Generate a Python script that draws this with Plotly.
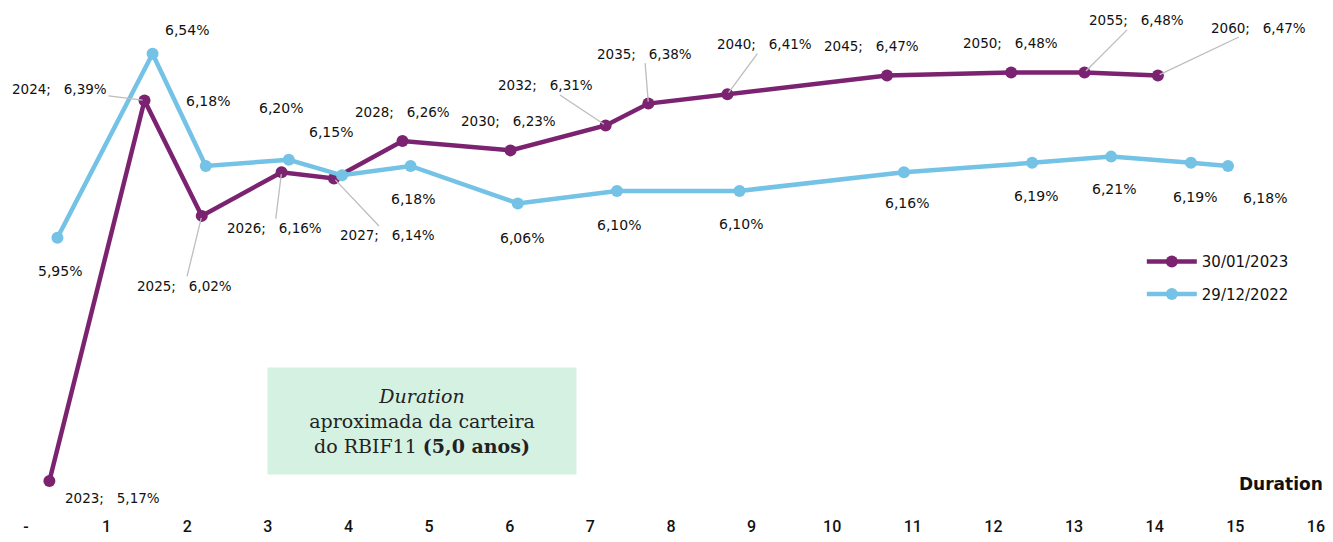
import plotly.graph_objects as go

# ---- data ----
jan_name = "30/01/2023"
dec_name = "29/12/2022"

jan_duration = [0.29, 1.47, 2.18, 3.17, 3.82, 4.67, 6.01, 7.19, 7.72, 8.70, 10.68, 12.22, 13.13, 14.04]
jan_rate = [5.17, 6.39, 6.02, 6.16, 6.14, 6.26, 6.23, 6.31, 6.38, 6.41, 6.47, 6.48, 6.48, 6.47]
jan_year = [2023, 2024, 2025, 2026, 2027, 2028, 2030, 2032, 2035, 2040, 2045, 2050, 2055, 2060]

dec_duration = [0.39, 1.57, 2.23, 3.26, 3.92, 4.77, 6.10, 7.33, 8.85, 10.89, 12.48, 13.46, 14.45, 14.91]
dec_rate = [5.95, 6.54, 6.18, 6.20, 6.15, 6.18, 6.06, 6.10, 6.10, 6.16, 6.19, 6.21, 6.19, 6.18]

x_ticks = list(range(0, 17))
x_tick_labels = ["-"] + [str(i) for i in range(1, 17)]

# ---- label placement (pixel offsets) ----
jan_offsets = [(63, 17), (-85, -11), (-17, 70), (-7, 56), (54, 57), (0, -29), (-2, -29),
               (-60, -40), (-4, -50), (37, -50), (-16, -30), (-1, -29), (52, -52), (101, -48)]
jan_leader = [False, True, True, True, True, False, False, True, True, True, False, False, True, True]
dec_offsets = [(3, 33), (34, -24), (2, -65), (-8, -52), (-11, -43), (2, 33), (4, 35), (2, 34),
               (2, 33), (3, 31), (4, 33), (3, 32), (4, 34), (37, 32)]

PURPLE = "#7B2370"
BLUE = "#74C2E5"
FONT = "DejaVu Sans"

def pct(v):
    return f"{v:.2f}".replace(".", ",") + "%"

fig = go.Figure()
fig.add_trace(go.Scatter(
    x=jan_duration, y=jan_rate, mode="lines+markers", name=jan_name,
    line=dict(color=PURPLE, width=4.5), marker=dict(color=PURPLE, size=12),
    legendgroup="a"))
fig.add_trace(go.Scatter(
    x=dec_duration, y=dec_rate, mode="lines+markers", name=dec_name,
    line=dict(color=BLUE, width=4.5), marker=dict(color=BLUE, size=12),
    legendgroup="b"))

annotations = []
sp = "\u00a0\u00a0\u00a0"
for xd, yv, yr, (dx, dy), lead in zip(jan_duration, jan_rate, jan_year, jan_offsets, jan_leader):
    txt = f"{yr};{sp}{pct(yv)}"
    if lead:
        annotations.append(dict(x=xd, y=yv, text=txt, showarrow=True, ax=dx, ay=dy,
                                arrowhead=0, arrowwidth=1.3, arrowcolor="#BDBDBD", standoff=2,
                                font=dict(family=FONT, size=13.5, color="#111111")))
    else:
        annotations.append(dict(x=xd, y=yv, text=txt, showarrow=False, xshift=dx, yshift=-dy,
                                font=dict(family=FONT, size=13.5, color="#111111")))

for xd, yv, (dx, dy) in zip(dec_duration, dec_rate, dec_offsets):
    annotations.append(dict(x=xd, y=yv, text=pct(yv), showarrow=False, xshift=dx, yshift=-dy,
                            font=dict(family=FONT, size=14, color="#111111")))

# duration box
annotations.append(dict(
    x=4.91, y=5.362, xref="x", yref="y",
    text="<i>Duration</i><br>aproximada da carteira<br>do RBIF11 <b>(5,0 anos)</b>",
    showarrow=False, bgcolor="#D5F1E2", width=306, height=104, align="center",
    font=dict(family="DejaVu Serif", size=19, color="#222222")))

# axis title
annotations.append(dict(
    x=1, y=5.17 - (484 - 481) / 312.0, xref="paper", yref="y", xanchor="right",
    xshift=-3, text="<b>Duration</b>", showarrow=False,
    font=dict(family=FONT, size=17, color="#111111")))

fig.update_layout(
    width=1325, height=534,
    margin=dict(l=18, r=5, t=12, b=27),
    paper_bgcolor="white", plot_bgcolor="white",
    showlegend=True,
    legend=dict(x=0.857, y=0.545, xanchor="left", yanchor="top",
                font=dict(family=FONT, size=15, color="#111111"),
                tracegroupgap=10, traceorder="grouped", bgcolor="rgba(0,0,0,0)",
                itemwidth=50),
    annotations=annotations,
    xaxis=dict(range=[0, 16.15], tickvals=x_ticks, ticktext=x_tick_labels,
               showgrid=False, zeroline=False, showline=False, ticks="",
               tickfont=dict(family="Roboto", size=16, color="#111111", weight=500)),
    yaxis=dict(range=[5.061, 6.648], visible=False, showgrid=False, zeroline=False),
)

fig.write_html("out.html")
